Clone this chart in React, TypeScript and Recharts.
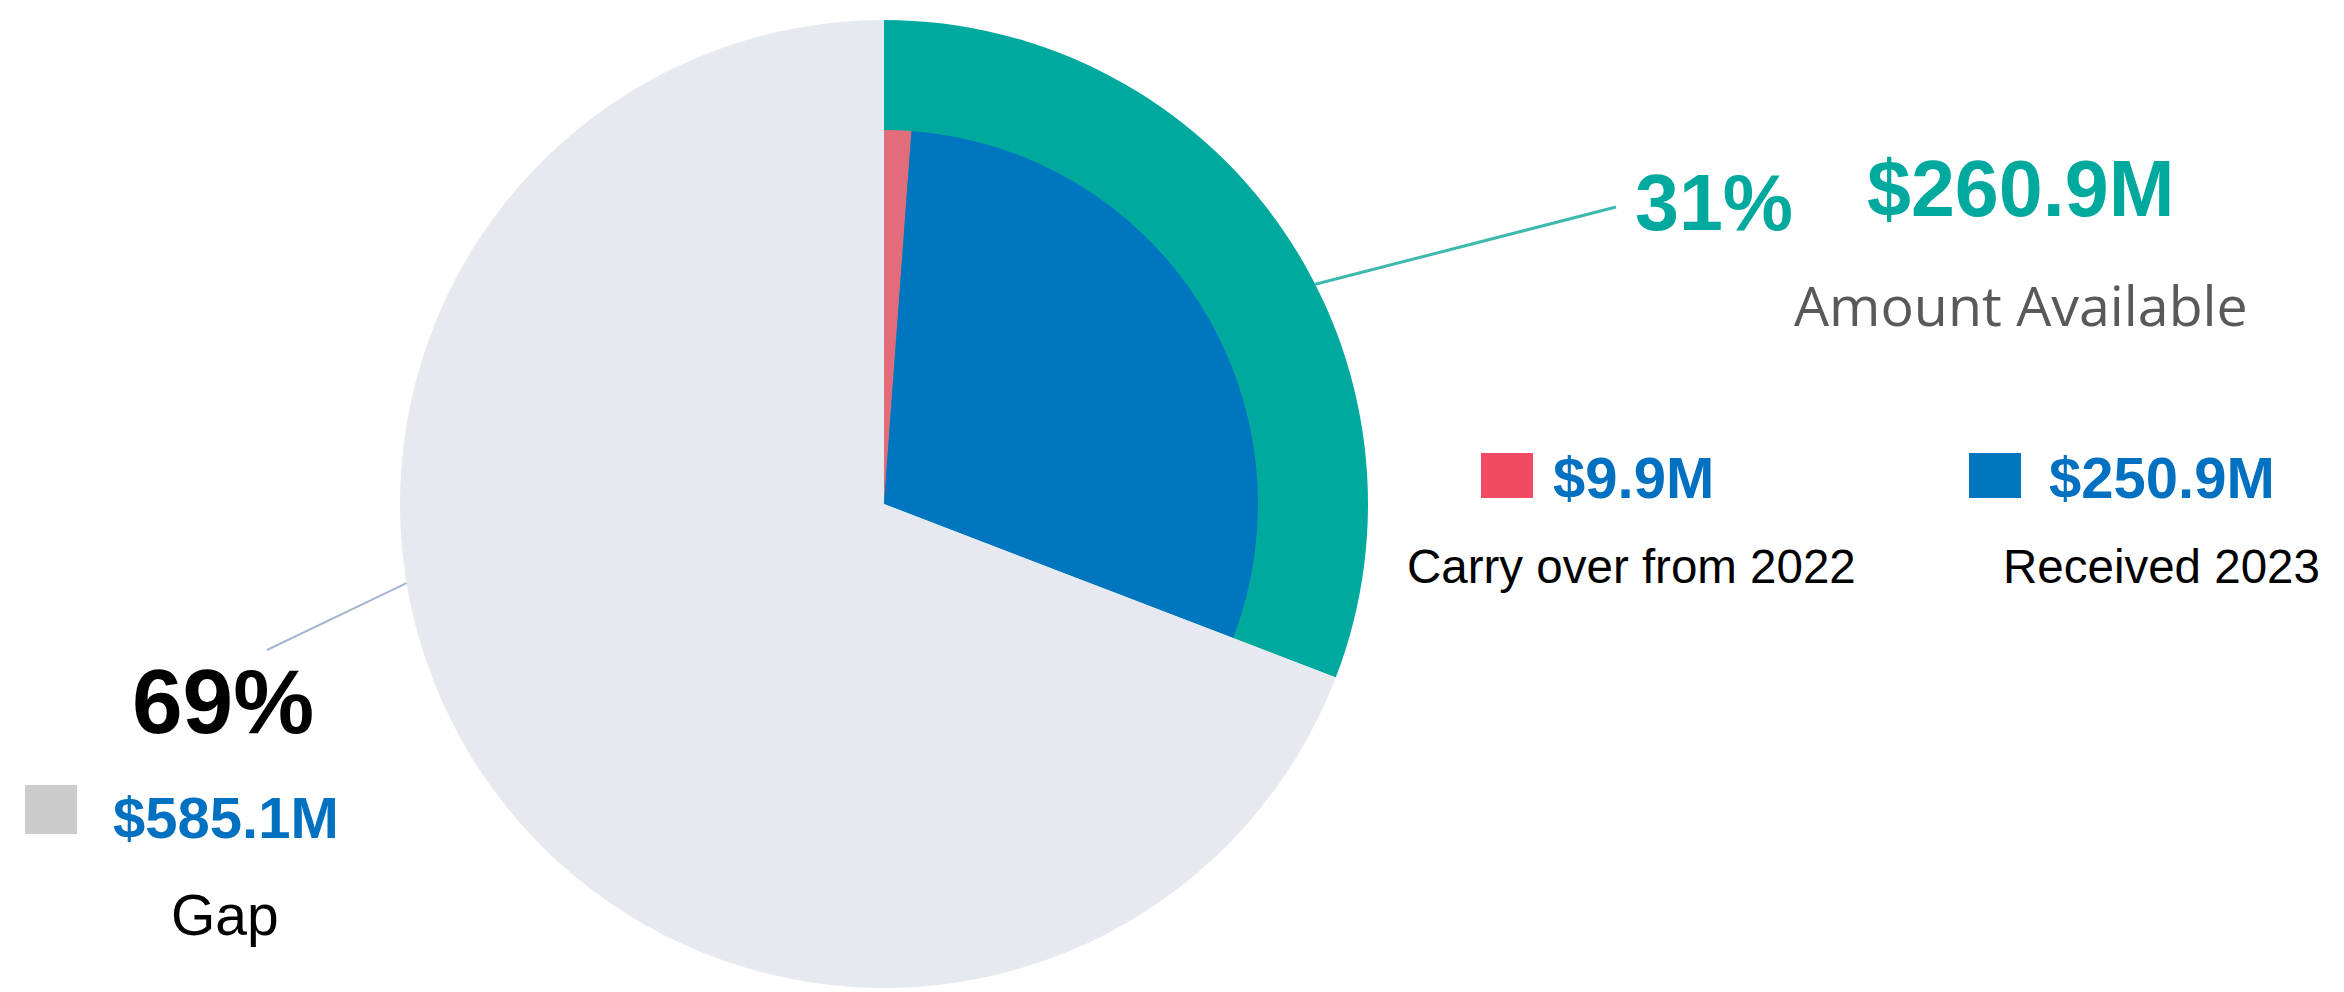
import React from "react";
import { PieChart, Pie, Cell } from "recharts";

// ---- data ----
const outerNames = ["Amount Available", "Gap"];
const outerValues = [260.9, 585.1];
const outerColors = ["#00A99D", "#E6E9F0"];

const innerNames = ["Carry over from 2022", "Received 2023", "Gap"];
const innerValues = [9.9, 250.9, 585.1];
const innerColors = ["#E36C7A", "#0076C0", "#E6E9F0"];

const pctLabels = ["31%", "69%"];
const amountLabels = ["$260.9M", "$585.1M"];
const legendAmounts = ["$9.9M", "$250.9M"];
const legendNames = ["Carry over from 2022", "Received 2023"];
const legendColors = ["#F04B62", "#0076C0"];

const outerData = outerNames.map((name, i) => ({ name, value: outerValues[i] }));
const innerData = innerNames.map((name, i) => ({ name, value: innerValues[i] }));

const W = 2344;
const H = 992;
const CX = 884;
const CY = 504;
const R_OUT = 484;
const R_IN = 374;

const BOLD = "'Liberation Sans', Arial, sans-serif";

const polar = (r: number, deg: number) => ({
  x: CX + r * Math.cos((deg * Math.PI) / 180),
  y: CY - r * Math.sin((deg * Math.PI) / 180),
});

export default function App() {
  const tealStart = polar(R_OUT, 27);
  const greyStart = polar(R_OUT, 189.4);
  return (
    <div style={{ position: "absolute", left: 0, top: 0, width: W, height: H, background: "#fff" }}>
      <PieChart width={W} height={H} margin={{ top: 0, right: 0, bottom: 0, left: 0 }}>
        <Pie
          data={outerData}
          dataKey="value"
          cx={CX}
          cy={CY}
          innerRadius={0}
          outerRadius={R_OUT}
          startAngle={90}
          endAngle={-270}
          stroke="none"
          isAnimationActive={false}
        >
          {outerData.map((d, i) => (
            <Cell key={d.name} fill={outerColors[i]} stroke="none" />
          ))}
        </Pie>
        <Pie
          data={innerData}
          dataKey="value"
          cx={CX}
          cy={CY}
          innerRadius={0}
          outerRadius={R_IN}
          startAngle={90}
          endAngle={-270}
          stroke="none"
          isAnimationActive={false}
        >
          {innerData.map((d, i) => (
            <Cell key={d.name} fill={innerColors[i]} stroke="none" />
          ))}
        </Pie>
      </PieChart>
      <svg
        width={W}
        height={H}
        style={{ position: "absolute", left: 0, top: 0, pointerEvents: "none" }}
      >
        {/* leader lines */}
        <line x1={tealStart.x} y1={tealStart.y} x2={1616} y2={207} stroke="#3DB8AE" strokeWidth={3} />
        <line x1={greyStart.x} y1={greyStart.y} x2={267} y2={650} stroke="#A3B7CF" strokeWidth={2} />

        {/* Amount available */}
        <text x={1635} y={230} fontFamily={BOLD} fontWeight={700} fontSize={79} fill="#00A99D">
          {pctLabels[0]}
        </text>
        <text x={1867} y={216} fontFamily={BOLD} fontWeight={700} fontSize={79} fill="#00A99D">
          {amountLabels[0]}
        </text>
        <text x={1794} y={326} fontFamily="'Open Sans', 'Noto Sans', sans-serif" fontSize={55.5} fill="#595959">
          {outerNames[0]}
        </text>

        {/* legend for inner pie */}
        <rect x={1481} y={453} width={52} height={45} fill={legendColors[0]} />
        <text x={1553} y={498} fontFamily={BOLD} fontWeight={700} fontSize={58} fill="#0070C0">
          {legendAmounts[0]}
        </text>
        <text x={1407} y={583} fontFamily={BOLD} fontSize={47.5} fill="#000">
          {legendNames[0]}
        </text>

        <rect x={1969} y={453} width={52} height={45} fill={legendColors[1]} />
        <text x={2049} y={498} fontFamily={BOLD} fontWeight={700} fontSize={58} fill="#0070C0">
          {legendAmounts[1]}
        </text>
        <text x={2003} y={583} fontFamily={BOLD} fontSize={47.5} fill="#000">
          {legendNames[1]}
        </text>

        {/* Gap */}
        <text x={132} y={733} fontFamily={BOLD} fontWeight={700} fontSize={91} fill="#000">
          {pctLabels[1]}
        </text>
        <rect x={25} y={785} width={52} height={49} fill="#CCCCCC" />
        <text x={113} y={838} fontFamily={BOLD} fontWeight={700} fontSize={58} fill="#0070C0">
          {amountLabels[1]}
        </text>
        <text x={171} y={935} fontFamily={BOLD} fontSize={57} fill="#000">
          {outerNames[1]}
        </text>
      </svg>
    </div>
  );
}
